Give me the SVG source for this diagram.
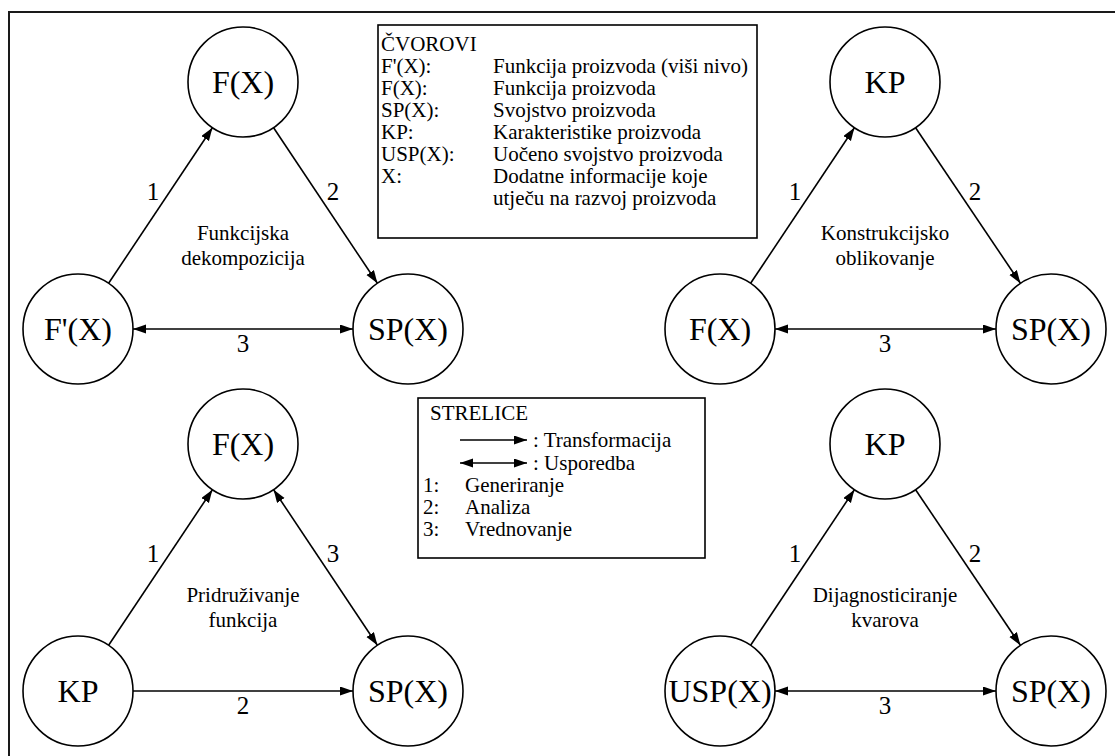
<svg xmlns="http://www.w3.org/2000/svg" width="1115" height="756" viewBox="0 0 1115 756" font-family="'Liberation Serif', 'Times New Roman', serif">
<defs>
<marker id="ah" markerUnits="userSpaceOnUse" markerWidth="14" markerHeight="10" refX="13" refY="4.5" orient="auto-start-reverse"><path d="M0,0 L13,4.5 L0,9 z" fill="#000"/></marker>
</defs>
<style>
text{font-family:"Liberation Serif","Times New Roman",serif;fill:#000}
.node circle{fill:#fff;stroke:#000;stroke-width:1.6}
.node text{font-size:32px;text-anchor:middle}
.lbl{font-size:25px;text-anchor:middle}
.cap{font-size:21px;text-anchor:middle}
.leg{font-size:21px}
.edge line{stroke:#000;stroke-width:1.6}
.one{marker-end:url(#ah)}
.two{marker-start:url(#ah);marker-end:url(#ah)}
.box{fill:#fff;stroke:#000;stroke-width:1.6}
</style>
<rect x="9" y="12" width="1200" height="800" fill="none" stroke="#1a1a1a" stroke-width="2"/>

<g id="connectors" class="edge">
<line class="one" x1="108.6" y1="283.3" x2="212.4" y2="127.7"/>
<line class="one" x1="273.6" y1="127.7" x2="377.4" y2="283.3"/>
<line class="two" x1="133" y1="329" x2="353" y2="329"/>
<line class="one" x1="750.6" y1="283.3" x2="854.4" y2="127.7"/>
<line class="one" x1="915.6" y1="127.7" x2="1020.4" y2="283.3"/>
<line class="two" x1="775" y1="329" x2="996" y2="329"/>
<line class="one" x1="108.6" y1="645.3" x2="212.4" y2="489.7"/>
<line class="two" x1="273.6" y1="489.7" x2="377.4" y2="645.3"/>
<line class="one" x1="133" y1="691" x2="353" y2="691"/>
<line class="one" x1="750.6" y1="645.3" x2="854.4" y2="489.7"/>
<line class="one" x1="915.6" y1="489.7" x2="1020.4" y2="645.3"/>
<line class="two" x1="775" y1="691" x2="996" y2="691"/>
</g>

<g id="labels">
<text class="lbl" x="153" y="200">1</text>
<text class="lbl" x="333" y="200">2</text>
<text class="lbl" x="243" y="352">3</text>
<text class="cap" x="243" y="240">Funkcijska</text>
<text class="cap" x="243" y="265">dekompozicija</text>
<text class="lbl" x="795" y="200">1</text>
<text class="lbl" x="975" y="200">2</text>
<text class="lbl" x="885" y="352">3</text>
<text class="cap" x="885" y="240">Konstrukcijsko</text>
<text class="cap" x="885" y="265">oblikovanje</text>
<text class="lbl" x="153" y="562">1</text>
<text class="lbl" x="333" y="562">3</text>
<text class="lbl" x="243" y="714">2</text>
<text class="cap" x="243" y="602">Pridruživanje</text>
<text class="cap" x="243" y="627">funkcija</text>
<text class="lbl" x="795" y="562">1</text>
<text class="lbl" x="975" y="562">2</text>
<text class="lbl" x="885" y="714">3</text>
<text class="cap" x="885" y="602">Dijagnosticiranje</text>
<text class="cap" x="885" y="627">kvarova</text>
</g>

<g id="n-tl-fx" class="node"><circle cx="243" cy="82" r="55"/><text x="243" y="93">F(X)</text></g>
<g id="n-tl-fpx" class="node"><circle cx="78" cy="329" r="55"/><text x="78" y="340">F'(X)</text></g>
<g id="n-tl-spx" class="node"><circle cx="408" cy="329" r="55"/><text x="408" y="340">SP(X)</text></g>

<g id="n-tr-kp" class="node"><circle cx="885" cy="82" r="55"/><text x="885" y="93">KP</text></g>
<g id="n-tr-fx" class="node"><circle cx="720" cy="329" r="55"/><text x="720" y="340">F(X)</text></g>
<g id="n-tr-spx" class="node"><circle cx="1051" cy="329" r="55"/><text x="1051" y="340">SP(X)</text></g>

<g id="n-bl-fx" class="node"><circle cx="243" cy="444" r="55"/><text x="243" y="455">F(X)</text></g>
<g id="n-bl-kp" class="node"><circle cx="78" cy="691" r="55"/><text x="78" y="702">KP</text></g>
<g id="n-bl-spx" class="node"><circle cx="408" cy="691" r="55"/><text x="408" y="702">SP(X)</text></g>

<g id="n-br-kp" class="node"><circle cx="885" cy="444" r="55"/><text x="885" y="455">KP</text></g>
<g id="n-br-uspx" class="node"><circle cx="720" cy="691" r="55"/><text x="720" y="702">USP(X)</text></g>
<g id="n-br-spx" class="node"><circle cx="1051" cy="691" r="55"/><text x="1051" y="702">SP(X)</text></g>

<g id="legend-cvorovi">
<rect class="box" x="378" y="25" width="379" height="213"/>
<text class="leg" x="381" y="51">ČVOROVI</text>
<text class="leg" x="381" y="73">F'(X):</text><text class="leg" x="493" y="73">Funkcija proizvoda (viši nivo)</text>
<text class="leg" x="381" y="95">F(X):</text><text class="leg" x="493" y="95">Funkcija proizvoda</text>
<text class="leg" x="381" y="117">SP(X):</text><text class="leg" x="493" y="117">Svojstvo proizvoda</text>
<text class="leg" x="381" y="139">KP:</text><text class="leg" x="493" y="139">Karakteristike proizvoda</text>
<text class="leg" x="381" y="161">USP(X):</text><text class="leg" x="493" y="161">Uočeno svojstvo proizvoda</text>
<text class="leg" x="381" y="183">X:</text><text class="leg" x="493" y="183">Dodatne informacije koje</text>
<text class="leg" x="493" y="205">utječu na razvoj proizvoda</text>
</g>

<g id="legend-strelice">
<rect class="box" x="418" y="398" width="287" height="160"/>
<text class="leg" x="430" y="420">STRELICE</text>
<line x1="460" y1="440" x2="527" y2="440" stroke="#000" stroke-width="1.6" marker-end="url(#ah)"/>
<text class="leg" x="533" y="447">: Transformacija</text>
<line x1="460" y1="463" x2="527" y2="463" stroke="#000" stroke-width="1.6" marker-start="url(#ah)" marker-end="url(#ah)"/>
<text class="leg" x="533" y="470">: Usporedba</text>
<text class="leg" x="423" y="492">1:</text><text class="leg" x="465" y="492">Generiranje</text>
<text class="leg" x="423" y="514">2:</text><text class="leg" x="465" y="514">Analiza</text>
<text class="leg" x="423" y="536">3:</text><text class="leg" x="465" y="536">Vrednovanje</text>
</g>
</svg>
